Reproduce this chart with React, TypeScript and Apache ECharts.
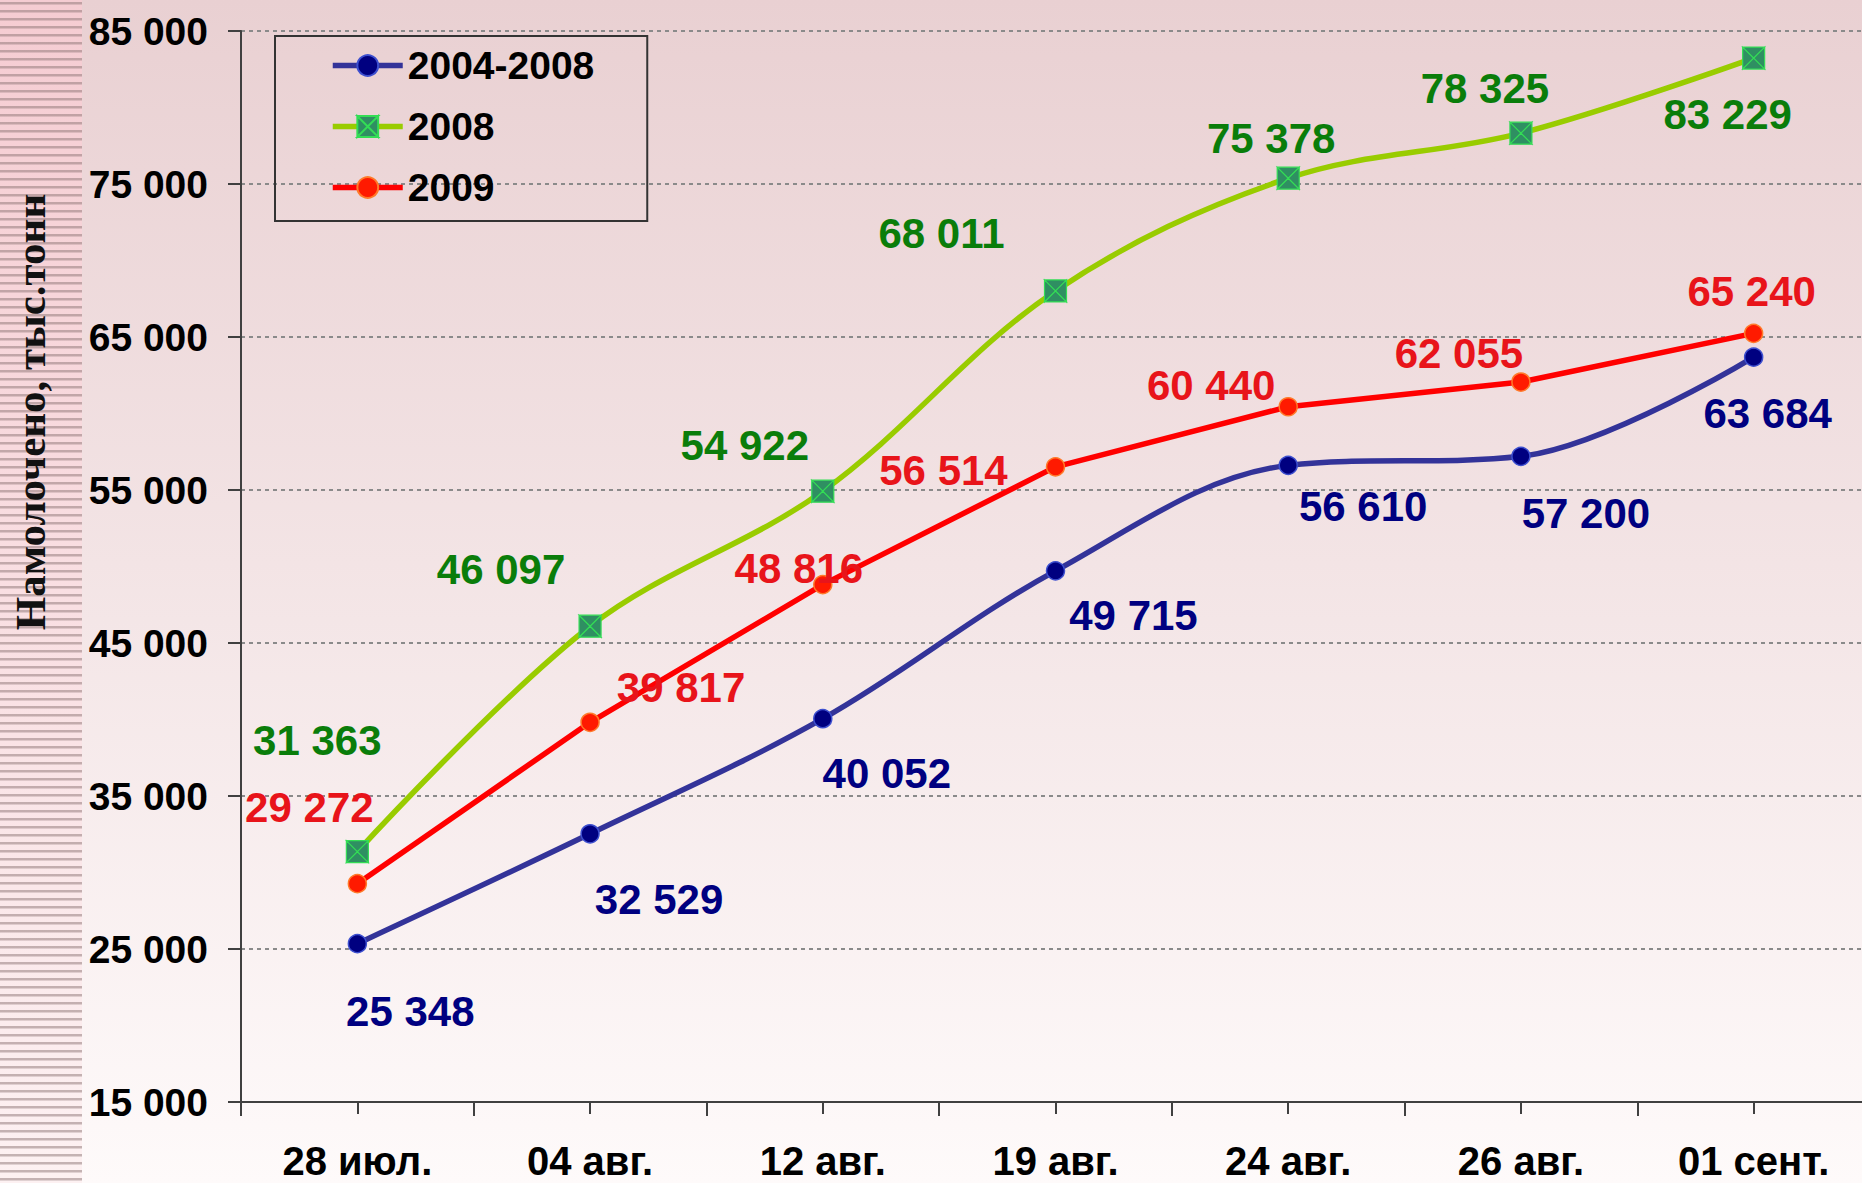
import React, { useEffect, useRef } from "react";
import * as echarts from "echarts";

const categories = ["28 июл.", "04 авг.", "12 авг.", "19 авг.", "24 авг.", "26 авг.", "01 сент."];
const seriesNames = ["2004-2008", "2008", "2009"];
const avg2004_2008 = [25348, 32529, 40052, 49715, 56610, 57200, 63684];
const harvest2008 = [31363, 46097, 54922, 68011, 75378, 78325, 83229];
const harvest2009 = [29272, 39817, 48816, 56514, 60440, 62055, 65240];
const yMin = 15000;
const yMax = 85000;
const yStep = 10000;
const yTitle = "Намолочено, тыс.тонн";

// label offsets (presentation only)
const offBlue = [[53, 68], [69, 66], [64, 55], [78, 45], [75, 41], [65, 57], [14, 56]];
const offGreen = [[-40, -111], [-89, -57], [-78, -46], [-114, -57], [-17, -40], [-36, -45], [-26, 56]];
const offRed = [[-48, -76], [91, -35], [-24, -16], [-112, 4], [-77, -21], [-62, -29], [-2, -42]];

const fmt = (n: number) => String(Math.round(n)).replace(/\B(?=(\d{3})+(?!\d))/g, " ");

const W = 1862;
const H = 1183;

function buildData(vals: number[], offs: number[][]) {
  return vals.map((v, i) => ({ value: v, label: { offset: offs[i] } }));
}

export default function App() {
  const ref = useRef<HTMLDivElement>(null);
  useEffect(() => {
    if (!ref.current) return;
    const chart = echarts.init(ref.current, undefined, { renderer: "svg" });

    const stripes: any[] = [];
    stripes.push({
      type: "rect",
      shape: { x: 0, y: 0, width: 82, height: H },
      style: {
        fill: new echarts.graphic.LinearGradient(0, 0, 0, 1, [
          { offset: 0, color: "#f5ccd2" },
          { offset: 1, color: "#fdf1f2" },
        ]),
      },
      silent: true,
      z: -10,
    });
    for (let y = 2; y < H; y += 8) {
      stripes.push({
        type: "rect",
        shape: { x: 0, y, width: 82, height: 2.5 },
        style: { fill: "rgba(140,115,115,0.5)" },
        silent: true,
        z: -9,
      });
    }
    stripes.push({
      type: "text",
      x: 30,
      y: 412,
      rotation: Math.PI / 2,
      style: {
        text: yTitle,
        fontFamily: "'Liberation Serif', 'Times New Roman', serif",
        fontWeight: "bold",
        fontSize: 43,
        fill: "#111",
        align: "center",
        verticalAlign: "middle",
      },
      z: 5,
    });

    const labelBase = {
      show: true,
      position: "inside",
      align: "center",
      verticalAlign: "middle",
      fontFamily: "Arial, 'Liberation Sans', sans-serif",
      fontWeight: "bold",
      fontSize: 42,
      formatter: (p: any) => fmt(p.value),
    };

    const option: any = {
      animation: false,
      backgroundColor: new echarts.graphic.LinearGradient(0, 0, 0, 1, [
        { offset: 0, color: "#e9d0d2" },
        { offset: 1, color: "#fefafa" },
      ]),
      graphic: stripes,
      grid: {
        left: 241,
        top: 31,
        bottom: 81,
        right: -8,
        containLabel: false,
        outerBoundsMode: "none",
      },
      legend: {
        show: true,
        data: seriesNames,
        orient: "vertical",
        left: 275,
        top: 36,
        itemWidth: 70,
        itemHeight: 26,
        itemGap: 22,
        padding: [10, 53, 14, 55],
        borderColor: "#333",
        borderWidth: 2,
        selectedMode: false,
        lineStyle: { width: 5.5 },
        textStyle: {
          fontFamily: "Arial, 'Liberation Sans', sans-serif",
          fontWeight: "bold",
          fontSize: 39,
          color: "#000",
        },
      },
      xAxis: [
        {
          type: "category",
          data: categories,
          boundaryGap: true,
          axisLine: { show: true, lineStyle: { color: "#404040", width: 2 } },
          axisTick: { show: true, length: 14, lineStyle: { color: "#404040", width: 2 } },
          axisLabel: {
            margin: 38,
            lineHeight: 42,
            fontFamily: "Arial, 'Liberation Sans', sans-serif",
            fontWeight: "bold",
            fontSize: 40,
            color: "#000",
            interval: 0,
          },
          splitLine: { show: false },
        },
        {
          type: "category",
          data: categories,
          boundaryGap: true,
          position: "bottom",
          axisLine: { show: false },
          axisTick: { show: true, alignWithLabel: true, length: 12, lineStyle: { color: "#404040", width: 2 } },
          axisLabel: { show: false },
          splitLine: { show: false },
        },
      ],
      yAxis: {
        type: "value",
        min: yMin,
        max: yMax,
        interval: yStep,
        axisLine: { show: true, lineStyle: { color: "#404040", width: 2 } },
        axisTick: { show: true, length: 13, lineStyle: { color: "#404040", width: 2 } },
        axisLabel: {
          margin: 33,
          formatter: (v: number) => fmt(v),
          fontFamily: "Arial, 'Liberation Sans', sans-serif",
          fontWeight: "bold",
          fontSize: 39,
          color: "#000",
        },
        splitLine: { show: true, lineStyle: { color: "#8a8a8a", width: 2, type: [4, 4] } },
      },
      series: [
        {
          name: seriesNames[0],
          type: "line",
          xAxisIndex: 0,
          data: buildData(avg2004_2008, offBlue),
          smooth: 0.35,
          symbol: "circle",
          symbolSize: 18,
          lineStyle: { color: "#333399", width: 5.5 },
          itemStyle: { color: "#000080", borderColor: "#3d4fcf", borderWidth: 1.5 },
          label: { ...labelBase, color: "#000080" },
          z: 3,
        },
        {
          name: seriesNames[1],
          type: "line",
          xAxisIndex: 0,
          data: buildData(harvest2008, offGreen),
          smooth: 0.35,
          symbol: "path://M0,0L20,0L10,10Z M20,0L20,20L10,10Z M20,20L0,20L10,10Z M0,20L0,0L10,10Z",
          symbolSize: 22,
          lineStyle: { color: "#99cc00", width: 5.5 },
          itemStyle: { color: "#2f8f62", borderColor: "#33dd55", borderWidth: 1.2 },
          label: { ...labelBase, color: "#0a7d0a" },
          z: 4,
        },
        {
          name: seriesNames[2],
          type: "line",
          xAxisIndex: 0,
          data: buildData(harvest2009, offRed),
          smooth: false,
          symbol: "circle",
          symbolSize: 18,
          lineStyle: { color: "#ff0000", width: 5.5 },
          itemStyle: { color: "#ff1a00", borderColor: "#ff7a2a", borderWidth: 1.5 },
          label: { ...labelBase, color: "#e8141a" },
          z: 5,
        },
      ],
    };
    chart.setOption(option);
    return () => chart.dispose();
  }, []);
  return (
    <div
      ref={ref}
      style={{ position: "absolute", left: 0, top: 0, width: W, height: H }}
    />
  );
}
